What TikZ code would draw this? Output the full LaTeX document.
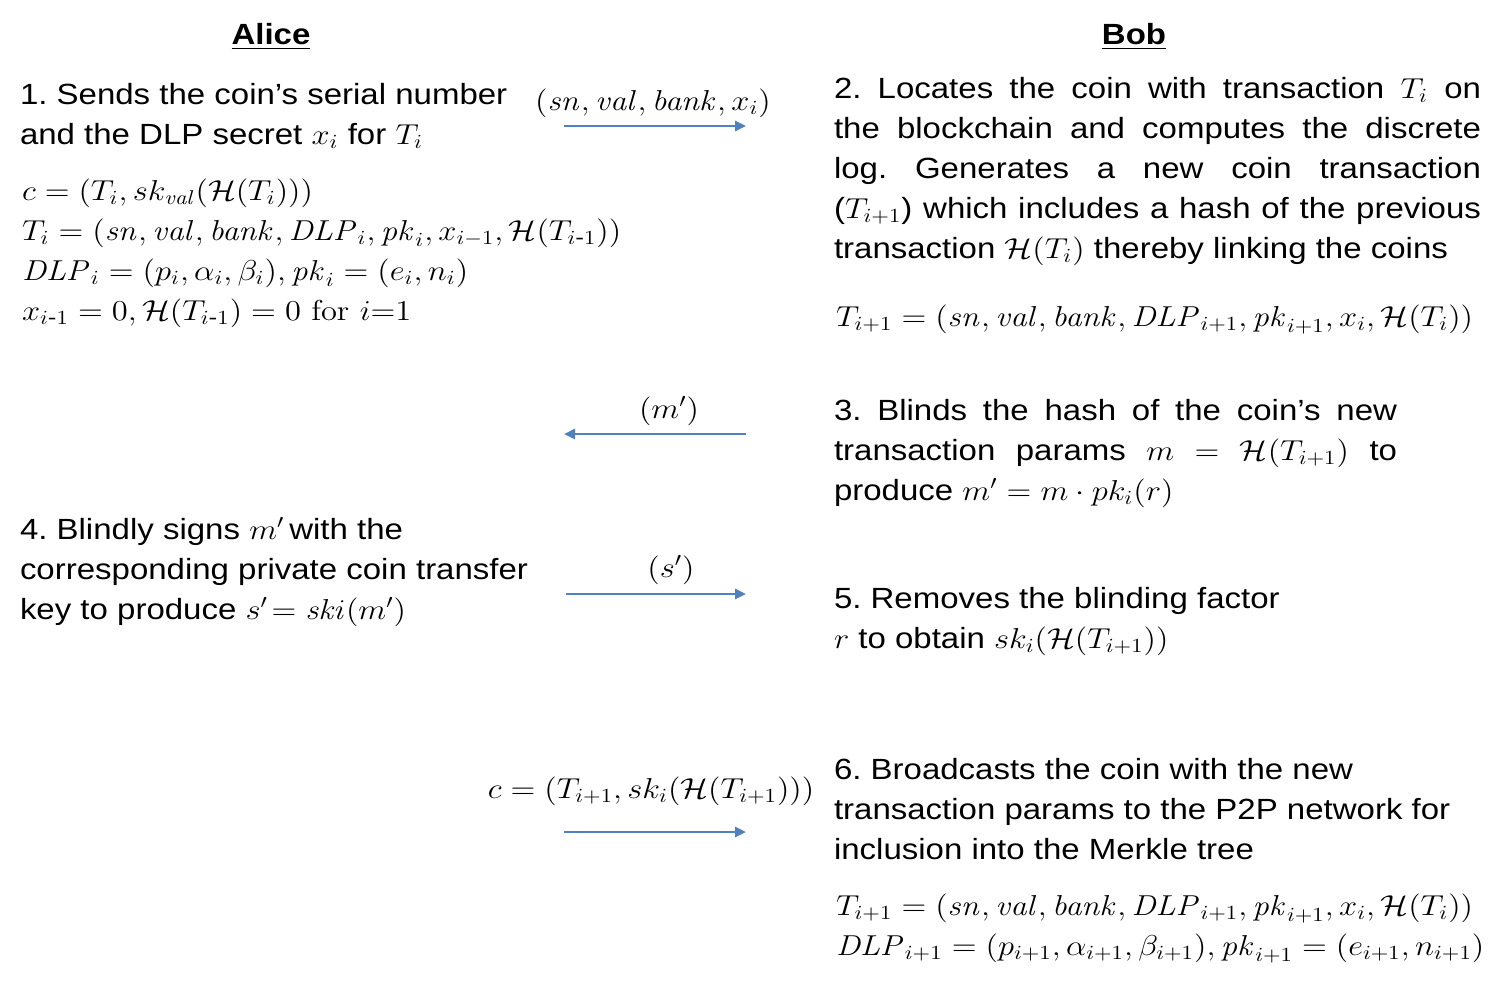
\documentclass[tikz,border=0pt]{standalone}
\usepackage{amsmath}
\usepackage{graphicx}
\usepackage[no-math]{fontspec}
\setmainfont{Liberation Sans}[FakeStretch=1.13]
\usetikzlibrary{arrows.meta}
\definecolor{arrowblue}{RGB}{79,129,189}
\newcommand{\m}[1]{\scalebox{1.13}[1]{$#1$}}
\newcommand{\blk}[2]{\vtop{\hsize=#1\relax\parindent=0pt\relax\frenchspacing #2\par}}
\begin{document}
\begin{tikzpicture}[x=0.5pt,y=-0.5pt,
  every node/.style={inner sep=0pt, outer sep=0pt, font=\fontsize{14.6}{20}\selectfont},
  msg/.style={draw=arrowblue, line width=1.3pt, -{Triangle[length=5.5pt,width=5pt]}}]
\useasboundingbox (0,0) rectangle (1502,981);
% titles
\node[anchor=base] (alice) at (271,44) {\textbf{\underline{Alice}}};
\node[anchor=base] (bob) at (1134,44) {\textbf{\underline{Bob}}};
% step 1
\node[anchor=base west] (s1) at (20,104) {\blk{300pt}{\raggedright 1. Sends the coin's serial number\\ and the DLP secret \m{x_i} for \m{T_i}}};
\node[anchor=base west] (e1) at (22,200) {\blk{360pt}{\raggedright
  \m{c = (T_i, sk_{\mathit{val}}(\mathcal{H}(T_i)))}\\
  \m{T_i = (\mathit{sn}, \mathit{val}, \mathit{bank}, \mathit{DLP}_i, \mathit{pk}_i, x_{i-1}, \mathcal{H}(T_{i\text{-}1}))}\\
  \m{\mathit{DLP}_i = (p_i, \alpha_i, \beta_i), \mathit{pk}_i = (e_i, n_i)}\\
  \m{x_{i\text{-}1} = 0, \mathcal{H}(T_{i\text{-}1}) = 0\ \mathrm{for}\ i{=}1}}};
\node[anchor=base] (l1) at (653,110) {\m{(\mathit{sn}, \mathit{val}, \mathit{bank}, x_i)}};
\coordinate (a1s) at (564,126);
\coordinate (a1e) at (746,126);
\draw[msg] (a1s) -- (a1e);
% step 2
\node[anchor=base west] (s2) at (834,98) {\blk{323.5pt}{2. Locates the coin with transaction \m{T_i} on\linebreak
  the blockchain and computes the discrete\linebreak
  log. Generates a new coin transaction\linebreak
  (\m{T_{i+1}}) which includes a hash of the previous\linebreak
  transaction \m{\mathcal{H}(T_i)} thereby linking the coins}};
\node[anchor=base west] (e2) at (836,326) {\m{T_{i+1} = (\mathit{sn}, \mathit{val}, \mathit{bank}, \mathit{DLP}_{i+1}, \mathit{pk}_{i+1}, x_i, \mathcal{H}(T_i))}};
% step 3
\node[anchor=base] (l3) at (669,418) {\m{(m')}};
\coordinate (a3s) at (746,434);
\coordinate (a3e) at (564,434);
\draw[msg] (a3s) -- (a3e);
\node[anchor=base west] (s3) at (834,420) {\blk{281.5pt}{3. Blinds the hash of the coin's new\linebreak
  transaction params \m{m} \m{=} \m{\mathcal{H}(T_{i+1})} to\linebreak
  produce \m{m' = m\cdot pk_i(r)}}};
% step 4
\node[anchor=base west] (s4) at (20,539) {\blk{300pt}{\raggedright 4. Blindly signs \m{m'}\,with the\\
  corresponding private coin transfer\\
  key to produce \m{s'\!= \mathit{ski}(m')}}};
\node[anchor=base] (l5) at (671,577) {\m{(s')}};
\coordinate (a5s) at (566,594);
\coordinate (a5e) at (746,594);
\draw[msg] (a5s) -- (a5e);
% step 5
\node[anchor=base west] (s5) at (834,608) {\blk{300pt}{\raggedright 5. Removes the blinding factor\\
  \m{r} to obtain \m{sk_i(\mathcal{H}(T_{i+1}))}}};
% step 6
\node[anchor=base] (l6) at (651,798) {\m{c = (T_{i+1}, sk_i(\mathcal{H}(T_{i+1})))}};
\coordinate (a6s) at (564,832);
\coordinate (a6e) at (746,832);
\draw[msg] (a6s) -- (a6e);
\node[anchor=base west] (s6) at (834,779) {\blk{340pt}{\raggedright 6. Broadcasts the coin with the new\\
  transaction params to the P2P network for\\
  inclusion into the Merkle tree}};
\node[anchor=base west] (e6) at (836,915) {\blk{340pt}{\raggedright
  \m{T_{i+1} = (\mathit{sn}, \mathit{val}, \mathit{bank}, \mathit{DLP}_{i+1}, \mathit{pk}_{i+1}, x_i, \mathcal{H}(T_i))}\\
  \m{\mathit{DLP}_{i+1} = (p_{i+1}, \alpha_{i+1}, \beta_{i+1}), \mathit{pk}_{i+1} = (e_{i+1}, n_{i+1})}}};
\end{tikzpicture}
\end{document}
